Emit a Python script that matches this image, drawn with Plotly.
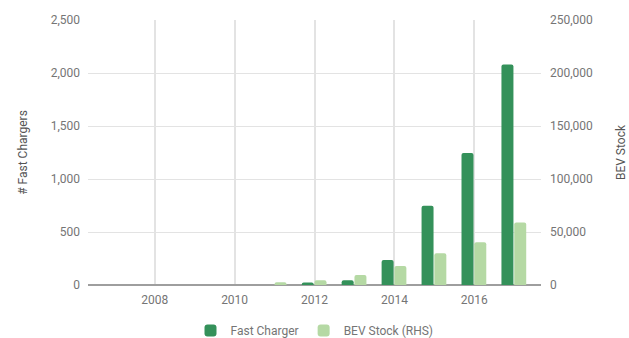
import plotly.graph_objects as go

# Annual figures
years = [2007, 2008, 2009, 2010, 2011, 2012, 2013, 2014, 2015, 2016, 2017]
fast_chargers = [0, 0, 0, 0, 0, 24, 45, 237, 748, 1245, 2080]
bev_stock = [0, 0, 0, 0, 2500, 4400, 9500, 18000, 30000, 40300, 59000]

left_ticks = [0, 500, 1000, 1500, 2000, 2500]
right_ticks = [0, 50000, 100000, 150000, 200000, 250000]
x_ticks = [2008, 2010, 2012, 2014, 2016]

DARK = "#34915a"
LIGHT = "#b5d9a4"
TICK_COLOR = "#757575"
GRID = "#e3e3e3"

fig = go.Figure()
fig.add_trace(go.Bar(
    x=years, y=fast_chargers, name="Fast Charger",
    marker=dict(color=DARK, line=dict(width=0)),
    width=0.3, offset=-0.32, yaxis="y",
))
fig.add_trace(go.Bar(
    x=years, y=bev_stock, name="BEV Stock (RHS)",
    marker=dict(color=LIGHT, line=dict(width=0)),
    width=0.3, offset=0.0, yaxis="y2",
))

font = dict(family="Roboto, Arial, sans-serif", size=12, color=TICK_COLOR)
title_font = dict(family="Roboto, Arial, sans-serif", size=12, color="#555555")

fig.update_layout(
    width=629, height=338,
    margin=dict(l=88, r=88, t=20, b=53, autoexpand=False),
    paper_bgcolor="white", plot_bgcolor="white",
    font=font,
    barcornerradius=2,
    showlegend=True,
    legend=dict(orientation="h", x=0.5, xanchor="center", y=-0.172, yanchor="middle",
                font=font, itemwidth=30, traceorder="normal"),
    xaxis=dict(
        range=[2006.33, 2017.67], tickvals=x_ticks, ticktext=[str(v) for v in x_ticks],
        showgrid=True, gridcolor=GRID, gridwidth=1.5, zeroline=False,
        showline=False, ticks="", tickfont=font, automargin=False,
        ticklabelstandoff=6,
    ),
    yaxis=dict(
        range=[0, 2500], tickvals=left_ticks, tickformat=",d",
        showgrid=True, gridcolor=GRID, gridwidth=1,
        zeroline=True, zerolinecolor="#9e9e9e", zerolinewidth=1.5,
        ticks="", tickfont=font, ticklabelstandoff=7, automargin=False,
        title=dict(text="# Fast Chargers", font=title_font, standoff=20),
    ),
    yaxis2=dict(
        range=[0, 250000], tickvals=right_ticks, tickformat=",d",
        overlaying="y", side="right", showgrid=False, zeroline=False,
        ticks="", tickfont=font, ticklabelstandoff=8, automargin=False,
        title=dict(text="BEV Stock", font=title_font, standoff=24),
    ),
)

fig.write_html("out.html")
